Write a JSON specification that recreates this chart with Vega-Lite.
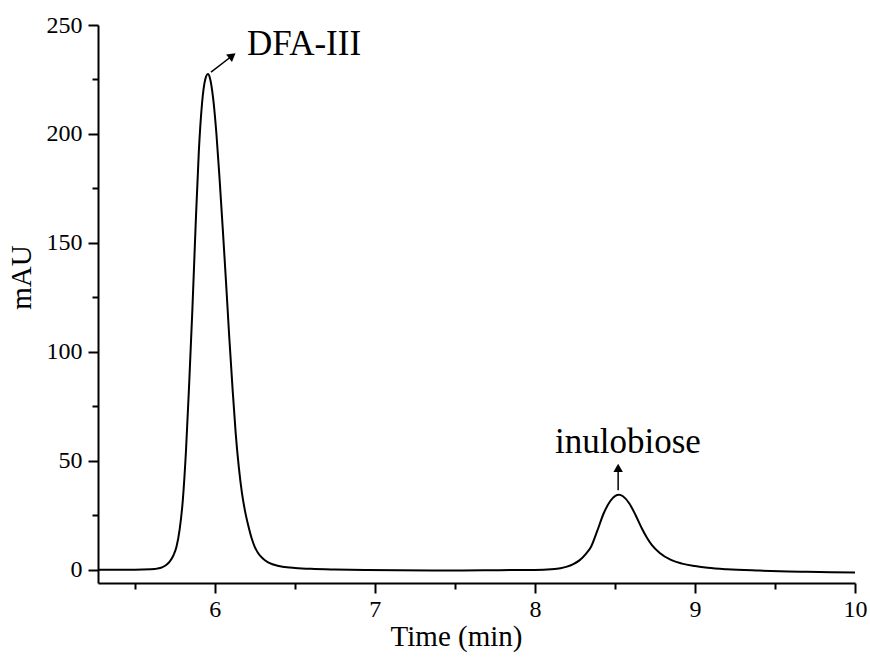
{
  "$schema": "https://vega.github.io/schema/vega-lite/v6.json",
  "width": 757,
  "height": 558,
  "autosize": {"type": "none"},
  "padding": {"left": 98, "top": 25, "right": 15, "bottom": 76},
  "background": "white",
  "config": {
    "font": "Liberation Serif",
    "view": {"stroke": null},
    "axis": {
      "domainColor": "black", "domainWidth": 2, "tickColor": "black", "tickWidth": 2,
      "labelColor": "black", "titleColor": "black", "grid": false,
      "labelFont": "Liberation Serif", "titleFont": "Liberation Serif",
      "labelFontSize": 24, "titleFontSize": 29, "titleFontWeight": "normal"
    }
  },
  "layer": [
    {
      "data": {"values": [
        {"t": 5.27, "v": 0.1}, {"t": 5.4, "v": 0.1}, {"t": 5.5, "v": 0.1}, {"t": 5.6, "v": 0.3},
        {"t": 5.64, "v": 0.6}, {"t": 5.67, "v": 1.2}, {"t": 5.7, "v": 2.5}, {"t": 5.72, "v": 4.0},
        {"t": 5.74, "v": 6.5}, {"t": 5.76, "v": 10.5}, {"t": 5.78, "v": 18.5}, {"t": 5.8, "v": 32},
        {"t": 5.82, "v": 55}, {"t": 5.84, "v": 86}, {"t": 5.86, "v": 120}, {"t": 5.88, "v": 158},
        {"t": 5.9, "v": 192}, {"t": 5.92, "v": 214}, {"t": 5.94, "v": 225}, {"t": 5.957, "v": 227.5},
        {"t": 5.97, "v": 225.5}, {"t": 5.99, "v": 216}, {"t": 6.01, "v": 200}, {"t": 6.03, "v": 179},
        {"t": 6.05, "v": 156}, {"t": 6.07, "v": 132}, {"t": 6.09, "v": 107}, {"t": 6.11, "v": 84},
        {"t": 6.13, "v": 63}, {"t": 6.15, "v": 47}, {"t": 6.17, "v": 35}, {"t": 6.19, "v": 26.5},
        {"t": 6.21, "v": 20}, {"t": 6.23, "v": 14.5}, {"t": 6.25, "v": 10.5}, {"t": 6.27, "v": 7.8},
        {"t": 6.3, "v": 5.2}, {"t": 6.33, "v": 3.6}, {"t": 6.36, "v": 2.6}, {"t": 6.4, "v": 1.8},
        {"t": 6.45, "v": 1.2}, {"t": 6.5, "v": 0.9}, {"t": 6.6, "v": 0.5}, {"t": 6.75, "v": 0.2},
        {"t": 6.95, "v": 0.0}, {"t": 7.15, "v": -0.2}, {"t": 7.36, "v": -0.3}, {"t": 7.55, "v": -0.25},
        {"t": 7.78, "v": -0.1}, {"t": 8.0, "v": 0.0}, {"t": 8.1, "v": 0.3}, {"t": 8.16, "v": 0.8},
        {"t": 8.2, "v": 1.5}, {"t": 8.24, "v": 2.7}, {"t": 8.28, "v": 4.5}, {"t": 8.32, "v": 7.5},
        {"t": 8.35, "v": 10.5}, {"t": 8.39, "v": 18}, {"t": 8.43, "v": 26}, {"t": 8.47, "v": 31.5},
        {"t": 8.5, "v": 33.9}, {"t": 8.526, "v": 34.5}, {"t": 8.55, "v": 33.8}, {"t": 8.59, "v": 30.5},
        {"t": 8.63, "v": 25}, {"t": 8.67, "v": 18.8}, {"t": 8.7, "v": 14.8}, {"t": 8.73, "v": 11.5},
        {"t": 8.78, "v": 7.8}, {"t": 8.85, "v": 4.6}, {"t": 8.92, "v": 2.9}, {"t": 9.0, "v": 1.8},
        {"t": 9.08, "v": 1.0}, {"t": 9.2, "v": 0.3}, {"t": 9.4, "v": -0.3}, {"t": 9.66, "v": -0.8},
        {"t": 9.85, "v": -1.1}, {"t": 10.0, "v": -1.2}
      ]},
      "mark": {"type": "line", "color": "black", "strokeWidth": 2, "clip": true, "interpolate": "monotone"},
      "encoding": {
        "x": {
          "field": "t", "type": "quantitative",
          "scale": {"domain": [5.27, 10], "nice": false, "zero": false},
          "axis": {
            "title": "Time (min)",
            "values": [5.5, 6, 6.5, 7, 7.5, 8, 8.5, 9, 9.5, 10],
            "labelExpr": "datum.value % 1 == 0 ? format(datum.value, 'd') : ''",
            "tickSize": {"condition": {"test": "datum.value % 1 != 0", "value": 6}, "value": 10},
            "labelFont": "Liberation Serif", "titleFont": "Liberation Serif",
            "labelPadding": 4, "titlePadding": 1, "titleX": 358, "labelFlush": false, "labelOverlap": false
          }
        },
        "y": {
          "field": "v", "type": "quantitative",
          "scale": {"domain": [-6, 250], "nice": false, "zero": false},
          "axis": {
            "title": "mAU",
            "values": [0, 25, 50, 75, 100, 125, 150, 175, 200, 225, 250],
            "labelExpr": "datum.value % 50 == 0 ? format(datum.value, 'd') : ''",
            "tickSize": {"condition": {"test": "datum.value % 50 != 0", "value": 6}, "value": 10},
            "labelFont": "Liberation Serif", "titleFont": "Liberation Serif",
            "labelPadding": 6, "titlePadding": 10, "titleY": 252, "labelFlush": false, "labelOverlap": false
          }
        }
      }
    },
    {
      "data": {"values": [
        {"t": 5.976, "v": 228.4, "t2": 6.109, "v2": 235.9},
        {"t": 8.52, "v": 36.5, "t2": 8.52, "v2": 46.5}
      ]},
      "mark": {"type": "rule", "color": "black", "strokeWidth": 1.5},
      "encoding": {
        "x": {"field": "t", "type": "quantitative"},
        "y": {"field": "v", "type": "quantitative"},
        "x2": {"field": "t2"},
        "y2": {"field": "v2"}
      }
    },
    {
      "data": {"values": [{"t": 6.109, "v": 235.9}]},
      "mark": {"type": "point", "shape": "triangle-up", "filled": true, "color": "black", "size": 90, "angle": 52, "opacity": 1},
      "encoding": {
        "x": {"field": "t", "type": "quantitative"},
        "y": {"field": "v", "type": "quantitative"}
      }
    },
    {
      "data": {"values": [{"t": 8.52, "v": 46.8}]},
      "mark": {"type": "point", "shape": "triangle-up", "filled": true, "color": "black", "size": 90, "angle": 0, "opacity": 1},
      "encoding": {
        "x": {"field": "t", "type": "quantitative"},
        "y": {"field": "v", "type": "quantitative"}
      }
    },
    {
      "data": {"values": [
        {"t": 6.201, "v": 236.2, "label": "DFA-III"},
        {"t": 8.126, "v": 53.7, "label": "inulobiose"}
      ]},
      "mark": {"type": "text", "align": "left", "baseline": "alphabetic", "fontSize": 35, "font": "Liberation Serif", "color": "black"},
      "encoding": {
        "x": {"field": "t", "type": "quantitative"},
        "y": {"field": "v", "type": "quantitative"},
        "text": {"field": "label"}
      }
    }
  ]
}
